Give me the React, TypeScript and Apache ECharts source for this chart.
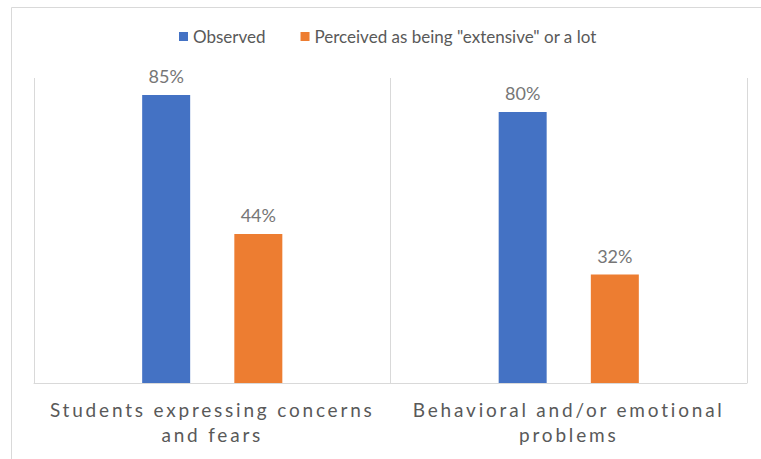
import React, { useEffect, useRef } from "react";
import * as echarts from "echarts";

const categories = [
  "Students expressing concerns and fears",
  "Behavioral and/or emotional problems",
];
const seriesNames = ["Observed", 'Perceived as being "extensive" or a lot'];
const observed = [85, 80];
const perceived = [44, 32];

const wrapLabel = (s: string) => {
  const w = s.split(" ");
  return w.slice(0, 3).join(" ") + "\n" + w.slice(3).join(" ");
};

export default function App() {
  const ref = useRef<HTMLDivElement>(null);
  useEffect(() => {
    if (!ref.current) return;
    const chart = echarts.init(ref.current, null, { renderer: "svg" });
    const font = "Lato, 'Open Sans', sans-serif";
    chart.setOption({
      animation: false,
      backgroundColor: "#ffffff",
      graphic: [
        {
          type: "rect",
          shape: { x: 11.5, y: 7.5, width: 800, height: 500 },
          style: { fill: "none", stroke: "#d9d9d9", lineWidth: 1 },
          silent: true,
        },
      ],
      legend: {
        top: 28,
        left: 179,
        padding: 0,
        itemWidth: 9,
        itemHeight: 9,
        itemGap: 35,
        icon: "rect",
        textStyle: { fontFamily: font, fontSize: 17, color: "#595959" },
        data: seriesNames,
      },
      grid: { left: 34, right: 14, top: 78, bottom: 76 },
      xAxis: {
        type: "category",
        data: categories,
        axisLine: { lineStyle: { color: "#d9d9d9", width: 1 } },
        axisTick: { show: false },
        splitLine: { show: true, lineStyle: { color: "#d9d9d9", width: 1 } },
        axisLabel: {
          formatter: wrapLabel,
          fontFamily: font,
          fontSize: 19,
          lineHeight: 25,
          color: "#595959",
          margin: 14,
          interval: 0,
        },
      },
      yAxis: {
        type: "value",
        min: 0,
        max: 90,
        show: false,
        splitLine: { show: false },
      },
      series: [
        {
          name: seriesNames[0],
          type: "bar",
          data: observed,
          barWidth: 48,
          barGap: "92%",
          itemStyle: { color: "#4472C4" },
          label: {
            show: true,
            position: "top",
            distance: 10,
            formatter: "{c}%",
            fontFamily: font,
            fontSize: 18,
            color: "#767676",
          },
        },
        {
          name: seriesNames[1],
          type: "bar",
          data: perceived,
          barWidth: 48,
          barGap: "92%",
          itemStyle: { color: "#ED7D31" },
          label: {
            show: true,
            position: "top",
            distance: 10,
            formatter: "{c}%",
            fontFamily: font,
            fontSize: 18,
            color: "#767676",
          },
        },
      ],
    });
    const lines = new Set<string>();
    categories.forEach((c) => wrapLabel(c).split("\n").forEach((l) => lines.add(l)));
    const applySpacing = () => {
      const el = ref.current;
      if (!el) return;
      el.querySelectorAll("text").forEach((t) => {
        if (lines.has((t.textContent || "").trim())) {
          (t as SVGTextElement).style.letterSpacing = "2.8px";
        }
      });
    };
    applySpacing();
    const id = window.setTimeout(applySpacing, 50);
    chart.on("finished", applySpacing);
    return () => {
      window.clearTimeout(id);
      chart.dispose();
    };
  }, []);
  return (
    <div
      ref={ref}
      style={{ position: "absolute", left: 0, top: 0, width: 761, height: 459 }}
    />
  );
}
